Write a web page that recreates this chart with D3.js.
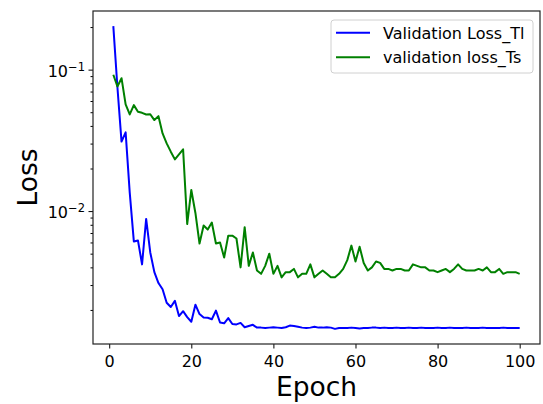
<!DOCTYPE html>
<html>
<head>
<meta charset="utf-8">
<script src="https://cdn.jsdelivr.net/npm/d3@7"></script>
<style>
  body { margin: 0; background: #fff; }
  text { font-family: "DejaVu Sans", sans-serif; fill: #000; }
</style>
</head>
<body>
<div id="chart"></div>
<script>
// values, epochs 1..100
const lossTl = [
  0.203, 0.075, 0.031, 0.036, 0.0135, 0.0061, 0.0062, 0.0042, 0.0088, 0.0051,
  0.0037, 0.0031, 0.0028, 0.00225, 0.0021, 0.00232, 0.00181, 0.00196, 0.00178, 0.00165,
  0.00218, 0.00187, 0.00177, 0.00176, 0.00172, 0.00198, 0.00163, 0.00161, 0.00175, 0.00159,
  0.00158, 0.00162, 0.00151, 0.00154, 0.00157, 0.0015, 0.0015, 0.00149, 0.0015, 0.00151,
  0.0015, 0.00149, 0.00151, 0.00155, 0.00154, 0.00152, 0.0015, 0.00149, 0.0015, 0.00152,
  0.0015, 0.0015, 0.00151, 0.0015, 0.00147, 0.00149, 0.00149, 0.00149, 0.0015, 0.00149,
  0.00148, 0.00149, 0.00149, 0.0015, 0.0015, 0.00149, 0.0015, 0.00149, 0.00149, 0.0015,
  0.00149, 0.00149, 0.0015, 0.00149, 0.00149, 0.0015, 0.00149, 0.00149, 0.00149, 0.0015,
  0.00149, 0.00149, 0.0015, 0.00149, 0.00149, 0.00149, 0.0015, 0.00149, 0.00149, 0.00149,
  0.0015, 0.00149, 0.00149, 0.00149, 0.00149, 0.0015, 0.00149, 0.00149, 0.00149, 0.00149
];
const lossTs = [
  0.092, 0.076, 0.087, 0.0568, 0.0482, 0.0561, 0.0503, 0.0495, 0.0482, 0.0484,
  0.044, 0.0469, 0.0354, 0.0301, 0.0263, 0.0232, 0.0252, 0.0273, 0.0081, 0.0141,
  0.0097, 0.0059, 0.0079, 0.0074, 0.0083, 0.0059, 0.006, 0.0047, 0.0067, 0.0067,
  0.0064, 0.004, 0.0077, 0.0041, 0.0051, 0.0038, 0.0036, 0.0041, 0.005, 0.0036,
  0.0041, 0.0034, 0.0037, 0.0037, 0.0039, 0.0034, 0.0036, 0.0036, 0.0042, 0.0034,
  0.0036, 0.0038, 0.0036, 0.0034, 0.0034, 0.0036, 0.0039, 0.0045, 0.0057, 0.0044,
  0.0056, 0.0043, 0.0038, 0.004, 0.0044, 0.0043, 0.0039, 0.0039, 0.0038, 0.0039,
  0.0039, 0.0038, 0.0038, 0.0042, 0.0041, 0.004, 0.004, 0.0038, 0.0038, 0.0037,
  0.0038, 0.0039, 0.0037, 0.0039, 0.0042, 0.0039, 0.0038, 0.0038, 0.0038, 0.0039,
  0.0038, 0.004, 0.0037, 0.0037, 0.0039, 0.0036, 0.0037, 0.0037, 0.0037, 0.0036
];
const seriesNames = ["Validation Loss_Tl", "validation loss_Ts"];
const seriesColors = ["#0000ff", "#008000"];
const xTicks = [0, 20, 40, 60, 80, 100];
const yMajor = [0.1, 0.01];
const yMajorLabels = [["10", "\u22121"], ["10", "\u22122"]];

const epochs = d3.range(1, lossTl.length + 1);

const W = 543, H = 404;
const margin = {top: 11, right: 3, bottom: 60, left: 93};
const width = W - margin.left - margin.right,
      height = H - margin.top - margin.bottom;

const svg = d3.select("#chart").append("svg")
    .attr("width", W)
    .attr("height", H);

const g = svg.append("g")
    .attr("transform", `translate(${margin.left},${margin.top})`);

// x: matplotlib style 5% margins
const xSpan = d3.max(epochs) - d3.min(epochs);
const x = d3.scaleLinear()
    .domain([d3.min(epochs) - 0.05 * xSpan, d3.max(epochs) + 0.05 * xSpan])
    .range([0, width]);

// y: log, 5% margin in decades
const all = lossTl.concat(lossTs);
const lo = Math.log10(d3.min(all)), hi = Math.log10(d3.max(all));
const pad = 0.05 * (hi - lo);
const y = d3.scaleLog()
    .domain([Math.pow(10, lo - pad), Math.pow(10, hi + pad)])
    .range([height, 0]);

// minor ticks on the log axis
const yMinor = [];
[0.001, 0.01, 0.1].forEach(dec => {
  for (let k = 2; k <= 9; k++) {
    const v = k * dec;
    if (v >= y.domain()[0] && v <= y.domain()[1]) yMinor.push(v);
  }
});

// lines
const line = d3.line()
    .x((d, i) => x(epochs[i]))
    .y(d => y(d));

[lossTl, lossTs].forEach((s, i) => {
  g.append("path")
      .datum(s)
      .attr("d", line)
      .attr("fill", "none")
      .attr("stroke", seriesColors[i])
      .attr("stroke-width", 2)
      .attr("stroke-linejoin", "round");
});

// axes
const xAxis = g.append("g")
    .attr("transform", `translate(0,${height})`)
    .call(d3.axisBottom(x).tickValues(xTicks).tickSize(4.5).tickPadding(7));
xAxis.select(".domain").remove();
xAxis.selectAll("text").style("font-size", "16px").attr("font-family", null);

g.append("g")
    .call(d3.axisLeft(y).tickValues(yMinor).tickSize(2.5).tickFormat(""))
    .select(".domain").remove();

const yAxis = g.append("g")
    .call(d3.axisLeft(y).tickValues(yMajor).tickSize(4.5).tickPadding(3.5).tickFormat(""));
yAxis.select(".domain").remove();
yAxis.selectAll(".tick text")
    .attr("font-family", null)
    .style("font-size", "16px")
    .attr("dy", "0.42em")
    .each(function(d, i) {
      const t = d3.select(this);
      t.append("tspan").text(yMajorLabels[i][0]);
      t.append("tspan").text(yMajorLabels[i][1])
          .style("font-size", "11.5px")
          .attr("dy", "-0.55em");
    });

g.selectAll(".tick line").attr("stroke", "#000").attr("stroke-width", 1);

// frame
g.append("rect")
    .attr("width", width)
    .attr("height", height)
    .attr("fill", "none")
    .attr("stroke", "#222")
    .attr("stroke-width", 1.2);

// axis titles
svg.append("text")
    .attr("x", margin.left + width / 2)
    .attr("y", 396)
    .attr("text-anchor", "middle")
    .style("font-size", "26.5px")
    .text("Epoch");

svg.append("text")
    .attr("transform", `translate(37,${margin.top + height / 2}) rotate(-90)`)
    .attr("text-anchor", "middle")
    .style("font-size", "26.5px")
    .text("Loss");

// legend
const legend = svg.append("g").attr("transform", "translate(331,20)");
legend.append("rect")
    .attr("width", 202)
    .attr("height", 53)
    .attr("rx", 3)
    .attr("fill", "#fff")
    .attr("fill-opacity", 0.8)
    .attr("stroke", "#d0d0d0")
    .attr("stroke-width", 1);

seriesNames.forEach((name, i) => {
  const yy = 12.7 + i * 24.6;
  legend.append("line")
      .attr("x1", 5).attr("x2", 39)
      .attr("y1", yy).attr("y2", yy)
      .attr("stroke", seriesColors[i])
      .attr("stroke-width", 2);
  legend.append("text")
      .attr("x", 52)
      .attr("y", yy + 5.8)
      .style("font-size", "16px")
      .text(name);
});
</script>
</body>
</html>
